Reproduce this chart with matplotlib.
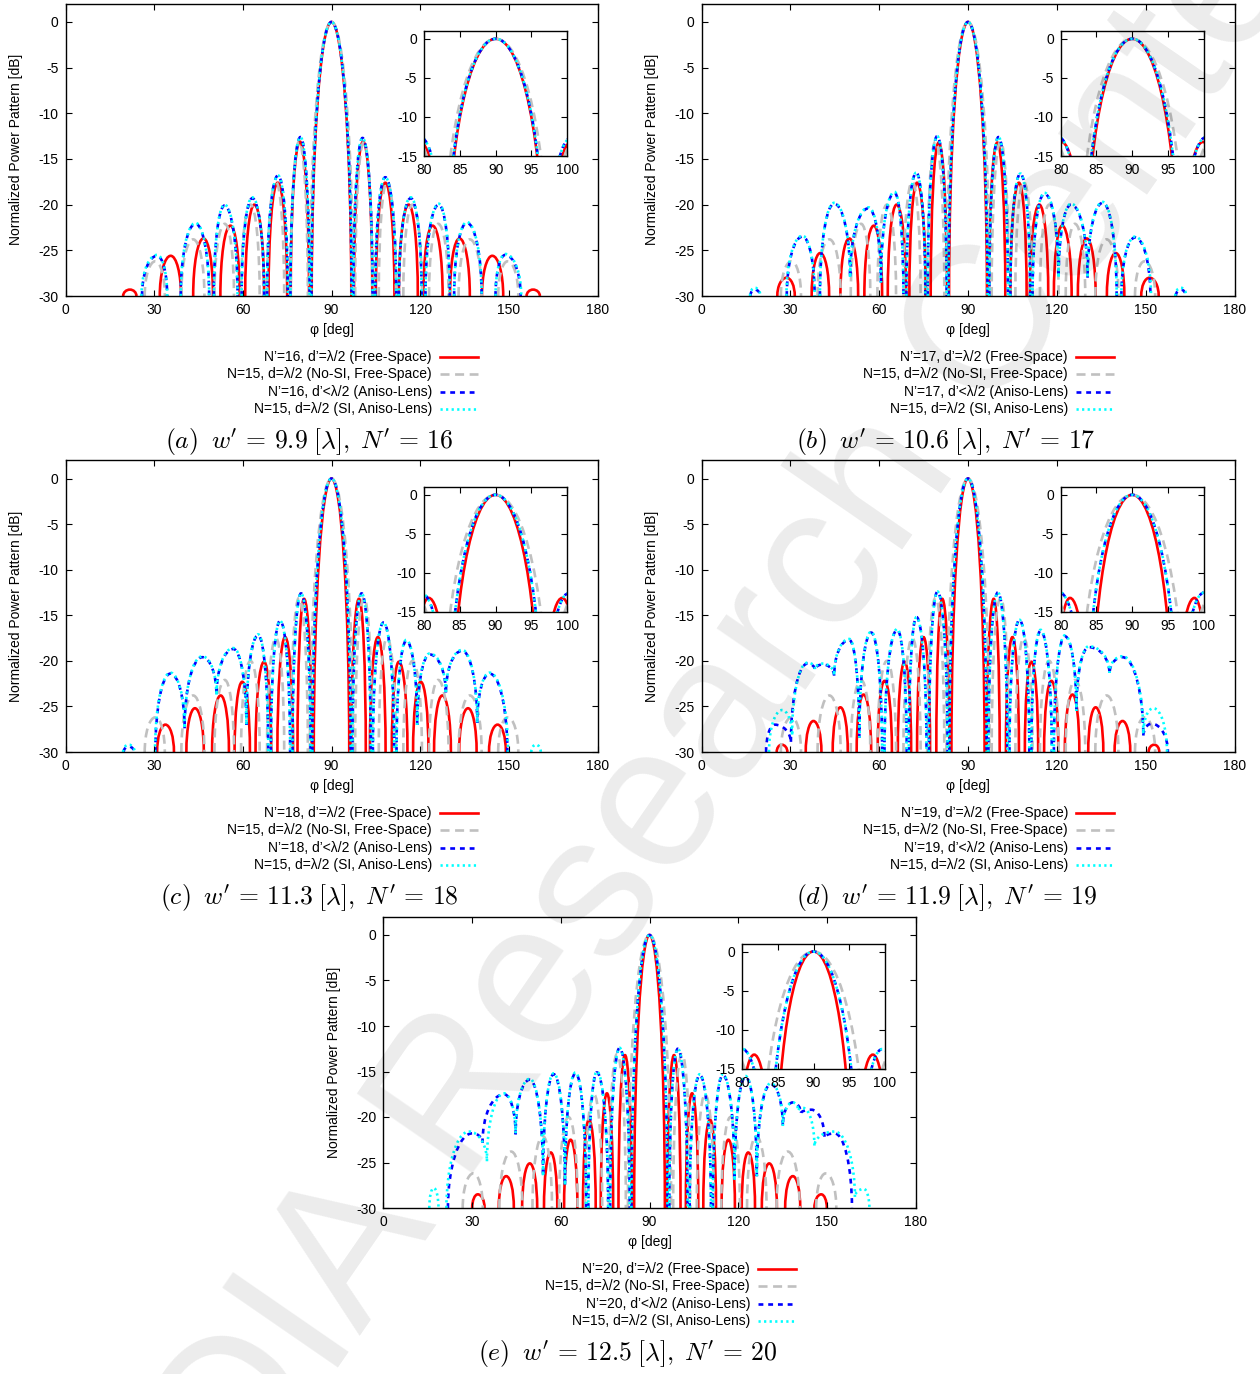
import matplotlib
matplotlib.use("Agg")
import matplotlib.pyplot as plt
from matplotlib.path import Path
from matplotlib.patches import PathPatch
from matplotlib.lines import Line2D

plt.rcParams["font.family"] = ["Liberation Sans", "DejaVu Sans"]
plt.rcParams["mathtext.fontset"] = "cm"
plt.rcParams["axes.unicode_minus"] = False
plt.rcParams["lines.scale_dashes"] = False

W, H = 1260, 1374

# each curve: lobe bottoms / peaks (deg, dB);
# two consecutive -30 points mean the curve drops below the axis in between
gray_pts = [(26.8, -30), (30.4, -26.2), (33.6, -30),
            (39.2, -30), (43.2, -23.8), (47.0, -30),
            (50.4, -30), (53.9, -22.1), (57.0, -30),
            (59.4, -30), (62.6, -20.0), (65.7, -30),
            (68.2, -30), (71.2, -17.5), (74.0, -30),
            (76.2, -30), (79.0, -13.1), (82.0, -30),
            (82.7, -30), (90.0, 0.0), (97.3, -30),
            (98.0, -30), (101.0, -13.1), (103.8, -30),
            (106.0, -30), (108.8, -17.5), (111.8, -30),
            (114.3, -30), (117.4, -20.0), (120.6, -30),
            (123.0, -30), (126.1, -22.1), (129.6, -30),
            (133.0, -30), (136.8, -23.8), (140.8, -30),
            (146.4, -30), (149.6, -26.2), (153.2, -30)]

red_a = [(19.5, -30), (21.8, -29.3), (24.0, -30),
         (31.9, -30), (35.6, -25.6), (39.1, -30),
         (43.2, -30), (46.7, -23.7), (49.9, -30),
         (52.4, -30), (55.8, -22.3), (58.9, -30),
         (60.8, -30), (63.9, -20.0), (67.2, -30),
         (68.7, -30), (71.8, -17.6), (75.0, -30),
         (76.2, -30), (79.3, -13.1), (82.4, -30),
         (83.3, -30), (90.0, 0.0), (96.7, -30),
         (97.6, -30), (100.7, -13.1), (103.8, -30),
         (105.0, -30), (108.2, -17.6), (111.3, -30),
         (112.8, -30), (116.1, -20.0), (119.2, -30),
         (121.1, -30), (124.2, -22.3), (127.6, -30),
         (130.1, -30), (133.3, -23.7), (136.8, -30),
         (140.9, -30), (144.4, -25.6), (148.1, -30),
         (156.0, -30), (158.2, -29.3), (160.5, -30)]

blue_a = [(25.9, -30), (31.0, -25.6), (34.4, -30),
          (39.0, -30), (44.0, -22.1), (48.6, -30),
          (50.2, -30), (53.8, -20.1), (58.2, -30),
          (59.6, -30), (63.2, -19.3), (67.2, -30),
          (68.2, -30), (71.9, -16.8), (75.2, -30),
          (76.1, -30), (79.5, -12.6), (82.6, -30),
          (83.2, -30), (90.0, 0.0), (96.8, -30),
          (97.4, -30), (100.5, -12.7), (103.9, -30),
          (104.8, -30), (108.2, -17.0), (111.9, -30),
          (112.8, -30), (116.8, -19.3), (120.5, -30),
          (121.8, -30), (126.3, -20.0), (130.0, -30),
          (131.5, -30), (135.8, -22.0), (140.8, -30),
          (145.5, -30), (148.8, -25.5), (154.0, -30)]

cyan_a = [(25.7, -30), (31.0, -25.5), (34.4, -30),
          (39.0, -30), (44.0, -22.0), (48.6, -30),
          (50.2, -30), (53.8, -20.0), (58.2, -30),
          (59.6, -30), (63.2, -19.2), (67.2, -30),
          (68.2, -30), (71.9, -16.8), (75.2, -30),
          (76.1, -30), (79.5, -12.6), (82.6, -30),
          (83.2, -30), (90.0, 0.0), (96.8, -30),
          (97.4, -30), (100.5, -12.7), (103.9, -30),
          (104.8, -30), (108.2, -17.0), (111.9, -30),
          (112.8, -30), (116.8, -19.2), (120.5, -30),
          (121.8, -30), (126.3, -19.9), (130.0, -30),
          (131.5, -30), (135.8, -21.9), (140.8, -30),
          (145.5, -30), (148.8, -25.4), (154.2, -30)]

red_b = [(25.6, -30), (28.7, -28.0), (31.5, -30),
         (37.2, -30), (40.1, -25.3), (43.1, -30),
         (46.9, -30), (49.9, -23.7), (52.9, -30),
         (55.0, -30), (58.2, -22.3), (61.0, -30),
         (62.9, -30), (65.9, -20.0), (69.1, -30),
         (70.2, -30), (72.8, -17.6), (75.7, -30),
         (77.4, -30), (80.1, -13.2), (82.9, -30),
         (83.6, -30), (90.0, 0.0), (96.4, -30),
         (97.1, -30), (99.9, -13.2), (102.6, -30),
         (104.3, -30), (107.2, -17.6), (109.8, -30),
         (110.9, -30), (114.1, -20.0), (117.1, -30),
         (119.0, -30), (121.8, -22.3), (125.0, -30),
         (127.1, -30), (130.1, -23.7), (133.1, -30),
         (136.9, -30), (139.9, -25.3), (142.8, -30),
         (148.5, -30), (151.3, -28.0), (154.4, -30)]

blue_b = [(16.5, -30), (18.0, -29.3), (19.8, -30),
          (28.8, -30), (34.1, -23.5), (38.2, -30),
          (40.0, -30), (44.8, -19.9), (50.2, -28.0), (56.4, -20.4),
          (60.6, -28.5), (65.2, -18.7), (68.2, -30),
          (69.2, -30), (72.5, -16.5), (75.6, -30),
          (76.4, -30), (79.6, -12.5), (82.8, -30),
          (83.4, -30), (90.0, 0.0), (96.6, -30),
          (97.2, -30), (100.3, -12.6), (103.5, -30),
          (104.3, -30), (107.7, -16.6), (111.0, -30),
          (111.8, -30), (115.8, -18.8), (120.6, -28.0), (124.8, -20.0),
          (130.4, -28.0), (135.5, -19.8), (140.2, -30),
          (141.8, -30), (146.4, -23.6), (151.6, -30),
          (160.2, -30), (161.9, -29.3), (163.5, -30)]

cyan_b = [(16.4, -30), (18.0, -29.1), (19.9, -30),
          (28.7, -30), (34.1, -23.4), (38.2, -30),
          (40.0, -30), (44.8, -19.8), (50.2, -28.0), (56.4, -20.3),
          (60.6, -28.5), (65.2, -18.6), (68.2, -30),
          (69.2, -30), (72.5, -16.5), (75.6, -30),
          (76.4, -30), (79.6, -12.5), (82.8, -30),
          (83.4, -30), (90.0, 0.0), (96.6, -30),
          (97.2, -30), (100.3, -12.6), (103.5, -30),
          (104.3, -30), (107.7, -16.6), (111.0, -30),
          (111.8, -30), (115.8, -18.7), (120.6, -28.0), (124.8, -19.9),
          (130.4, -28.0), (135.5, -19.7), (140.2, -30),
          (141.8, -30), (146.4, -23.5), (151.8, -30),
          (160.0, -30), (161.9, -29.1), (163.7, -30)]

red_c = [(31.0, -30), (33.8, -27.0), (36.7, -30),
         (40.9, -30), (43.8, -25.2), (46.8, -30),
         (49.6, -30), (52.5, -23.8), (55.3, -30),
         (57.2, -30), (59.8, -22.3), (62.4, -30),
         (64.3, -30), (67.2, -20.1), (69.6, -30),
         (71.7, -30), (74.3, -17.4), (77.0, -30),
         (78.5, -30), (80.7, -13.2), (83.3, -30),
         (84.0, -30), (90.0, 0.0), (96.0, -30),
         (96.7, -30), (99.3, -13.2), (101.6, -30),
         (103.0, -30), (105.7, -17.4), (108.3, -30),
         (110.4, -30), (112.8, -20.1), (115.7, -30),
         (117.6, -30), (120.2, -22.3), (122.8, -30),
         (124.7, -30), (127.5, -23.8), (130.4, -30),
         (133.2, -30), (136.2, -25.2), (139.1, -30),
         (143.3, -30), (146.2, -27.0), (149.0, -30)]

blue_c = [(19.7, -30), (21.4, -29.4), (23.2, -30),
          (30.4, -30), (35.5, -21.4), (40.3, -27.4), (46.3, -19.6),
          (51.1, -23.8), (56.8, -18.7), (61.2, -27.0), (65.2, -17.2), (68.6, -30),
          (69.5, -30), (72.6, -15.6), (76.0, -30),
          (76.8, -30), (79.7, -12.6), (82.9, -30),
          (83.5, -30), (90.0, 0.0), (96.5, -30),
          (97.1, -30), (100.2, -12.6), (103.3, -30),
          (104.0, -30), (107.6, -15.8), (111.2, -30),
          (112.0, -30), (115.3, -17.8), (119.0, -27.0), (123.2, -19.3),
          (128.7, -23.6), (134.2, -18.9), (139.3, -26.8), (143.5, -21.4), (149.5, -30)]

cyan_c = [(19.5, -30), (21.4, -29.2), (23.4, -30),
          (30.3, -30), (35.5, -21.3), (40.3, -27.4), (46.3, -19.5),
          (51.1, -23.8), (56.8, -18.6), (61.2, -27.0), (65.2, -17.1), (68.6, -30),
          (69.5, -30), (72.6, -15.6), (76.0, -30),
          (76.8, -30), (79.7, -12.6), (82.9, -30),
          (83.5, -30), (90.0, 0.0), (96.5, -30),
          (97.1, -30), (100.2, -12.6), (103.3, -30),
          (104.0, -30), (107.6, -15.8), (111.2, -30),
          (112.0, -30), (115.3, -17.7), (119.0, -27.0), (123.2, -19.2),
          (128.7, -23.6), (134.2, -18.8), (139.3, -26.8), (143.5, -21.3), (149.7, -30),
          (157.6, -30), (159.2, -29.2), (160.8, -30)]

red_d = [(25.4, -30), (27.1, -29.2), (29.0, -30),
         (35.2, -30), (37.8, -26.6), (40.5, -30),
         (44.3, -30), (46.9, -25.1), (49.4, -30),
         (52.4, -30), (54.7, -23.7), (57.3, -30),
         (59.5, -30), (61.8, -22.2), (64.3, -30),
         (66.3, -30), (68.6, -20.1), (70.8, -30),
         (72.8, -30), (75.0, -17.4), (77.2, -30),
         (79.3, -30), (81.3, -13.2), (83.7, -30),
         (84.4, -30), (90.0, 0.0), (95.6, -30),
         (96.3, -30), (98.7, -13.2), (100.7, -30),
         (102.8, -30), (105.0, -17.4), (107.2, -30),
         (109.2, -30), (111.4, -20.1), (113.7, -30),
         (115.7, -30), (118.2, -22.2), (120.5, -30),
         (122.7, -30), (125.3, -23.7), (127.6, -30),
         (130.6, -30), (133.1, -25.1), (135.7, -30),
         (139.5, -30), (142.2, -26.6), (144.8, -30),
         (151.0, -30), (152.9, -29.2), (154.6, -30)]

blue_d = [(21.8, -30), (24.7, -27.0), (30.2, -29.0), (35.8, -20.3), (38.3, -21.0),
          (40.9, -20.4), (44.8, -21.7), (49.9, -17.7), (53.3, -28.4), (57.3, -16.9), (61.0, -30),
          (61.8, -30), (66.1, -16.6), (69.3, -30),
          (70.0, -30), (72.6, -15.2), (76.0, -30),
          (76.8, -30), (79.7, -12.4), (83.1, -30),
          (83.7, -30), (90.0, 0.0), (96.3, -30),
          (96.9, -30), (100.1, -12.5), (103.3, -30),
          (104.0, -30), (107.4, -15.5), (110.7, -30),
          (111.4, -30), (114.5, -16.7), (118.3, -30),
          (119.0, -30), (122.7, -17.3), (126.6, -25.5), (130.8, -18.5), (137.8, -21.4),
          (142.2, -19.6), (149.2, -28.3), (152.0, -26.9), (157.5, -30)]

cyan_d = [(22.8, -30), (27.2, -25.4), (30.6, -28.2), (35.8, -20.2), (38.3, -20.9),
          (40.9, -20.3), (44.8, -21.6), (49.9, -17.6), (53.3, -28.4), (57.3, -16.8), (61.0, -30),
          (61.8, -30), (66.1, -16.5), (69.3, -30),
          (70.0, -30), (72.6, -15.2), (76.0, -30),
          (76.8, -30), (79.7, -12.4), (83.1, -30),
          (83.7, -30), (90.0, 0.0), (96.3, -30),
          (96.9, -30), (100.1, -12.5), (103.3, -30),
          (104.0, -30), (107.4, -15.5), (110.7, -30),
          (111.4, -30), (114.5, -16.6), (118.3, -30),
          (119.0, -30), (122.7, -17.2), (126.6, -25.5), (130.8, -18.4), (137.8, -21.3),
          (142.2, -19.5), (149.2, -28.0), (152.6, -25.2), (157.2, -30)]

red_e = [(30.0, -30), (31.9, -28.5), (34.2, -30),
         (39.0, -30), (41.5, -26.5), (44.1, -30),
         (46.9, -30), (49.5, -25.1), (52.0, -30),
         (54.3, -30), (56.6, -23.9), (58.8, -30),
         (61.1, -30), (63.3, -22.5), (65.6, -30),
         (67.5, -30), (69.5, -20.3), (71.8, -30),
         (73.5, -30), (75.6, -17.4), (77.7, -30),
         (79.5, -30), (81.7, -13.2), (84.0, -30),
         (84.8, -30), (90.0, 0.0), (95.2, -30),
         (96.0, -30), (98.3, -13.2), (100.5, -30),
         (102.3, -30), (104.4, -17.4), (106.5, -30),
         (108.2, -30), (110.5, -20.3), (112.5, -30),
         (114.4, -30), (116.7, -22.5), (118.9, -30),
         (121.2, -30), (123.4, -23.9), (125.7, -30),
         (128.0, -30), (130.5, -25.1), (133.1, -30),
         (135.9, -30), (138.5, -26.5), (141.0, -30),
         (145.8, -30), (148.1, -28.5), (150.0, -30)]

blue_e = [(21.8, -30), (30.0, -21.8), (33.5, -22.8), (40.8, -17.5), (44.7, -21.9),
          (49.5, -15.9), (54.0, -26.5), (57.6, -15.3), (61.4, -27.5), (65.0, -15.2), (68.6, -30),
          (69.3, -30), (72.2, -15.1), (76.0, -30),
          (76.7, -30), (79.9, -12.4), (83.3, -30),
          (83.9, -30), (90.0, 0.0), (96.1, -30),
          (96.7, -30), (99.6, -12.5), (102.9, -30),
          (103.6, -30), (107.0, -15.4), (110.8, -30),
          (111.4, -30), (114.8, -15.4), (118.8, -27.0), (122.5, -15.6), (126.3, -26.5),
          (131.0, -16.4), (135.1, -21.0), (138.5, -18.4), (141.2, -19.6), (144.8, -19.2),
          (149.2, -22.3), (152.6, -21.8), (158.5, -30)]

cyan_e = [(15.5, -30), (17.0, -27.8), (18.6, -30),
          (21.3, -30), (28.9, -21.6), (35.0, -24.9), (40.8, -17.4), (44.7, -21.8),
          (49.5, -15.8), (54.0, -26.5), (57.6, -15.2), (61.4, -27.5), (65.0, -15.1), (68.6, -30),
          (69.3, -30), (72.2, -15.0), (76.0, -30),
          (76.7, -30), (79.9, -12.4), (83.3, -30),
          (83.9, -30), (90.0, 0.0), (96.1, -30),
          (96.7, -30), (99.6, -12.5), (102.9, -30),
          (103.6, -30), (107.0, -15.3), (110.8, -30),
          (111.4, -30), (114.8, -15.3), (118.8, -27.0), (122.5, -15.5), (126.3, -26.5),
          (131.0, -16.3), (135.1, -21.0), (138.5, -18.4), (140.3, -19.3), (141.9, -19.0),
          (145.8, -23.2), (152.6, -21.6), (159.5, -28.8), (162.5, -27.9), (164.4, -30)]

n_prime = [16, 17, 18, 19, 20]
w_prime = ["9.9", "10.6", "11.3", "11.9", "12.5"]
letters = ["a", "b", "c", "d", "e"]

RED = dict(color="#ff0000", lw=1.9, ls="-")
GRAY = dict(color="#c0c0c0", lw=1.9, ls=(0, (6.5, 4.0)))
BLUE = dict(color="#0000ff", lw=1.9, ls=(0, (3.5, 3.5)))
CYAN = dict(color="#00ffff", lw=1.9, ls=(0, (1.6, 2.4)))

K = 0.55  # bezier handle length (quarter ellipse)


def lobes(ax, pts, st):
    verts, codes = [pts[0]], [Path.MOVETO]
    for (x0, y0), (x1, y1) in zip(pts[:-1], pts[1:]):
        if y0 <= -30 and y1 <= -30:
            verts.append((x1, y1))
            codes.append(Path.MOVETO)
            continue
        if y1 > y0:
            c1, c2 = (x0, y0 + K * (y1 - y0)), (x1 - K * (x1 - x0), y1)
        else:
            c1, c2 = (x0 + K * (x1 - x0), y0), (x1, y1 + K * (y0 - y1))
        verts += [c1, c2, (x1, y1)]
        codes += [Path.CURVE4] * 3
    ax.add_patch(PathPatch(Path(verts, codes), fill=False, edgecolor=st["color"],
                           linewidth=st["lw"], linestyle=st["ls"], capstyle="butt"))


def frac(l, t, r, b):
    return [l / W, 1 - b / H, (r - l) / W, (b - t) / H]


fig = plt.figure(figsize=(W / 100, H / 100), dpi=100)

main_px = [(65.5, 3.7, 597.5, 296), (701.5, 3.7, 1234.5, 296),
           (65.5, 460.3, 597.5, 752), (701.5, 460.3, 1234.5, 752),
           (383.5, 916.8, 915.5, 1208)]
inset_px = [(424, 31, 567.3, 156), (1060.7, 31, 1203.7, 156),
            (423.7, 487, 567.3, 612), (1060.7, 487, 1203.7, 612),
            (742, 943.7, 885, 1068.7)]
reds = [red_a, red_b, red_c, red_d, red_e]
blues = [blue_a, blue_b, blue_c, blue_d, blue_e]
cyans = [cyan_a, cyan_b, cyan_c, cyan_d, cyan_e]

for i in range(5):
    l, t, r, b = main_px[i]
    ax = fig.add_axes(frac(l, t, r, b))
    ax.set_xlim(0, 180)
    ax.set_ylim(-30, 2)
    ax.set_xticks(range(0, 181, 30))
    ax.set_yticks(range(-30, 1, 5))
    ax.tick_params(direction="in", top=True, right=True, length=4, width=0.8,
                   labelsize=10, pad=5)
    for sp in ax.spines.values():
        sp.set_linewidth(1.0)

    ins = fig.add_axes(frac(*inset_px[i]))
    ins.set_xlim(80, 100)
    ins.set_ylim(-15, 1)
    ins.set_xticks(range(80, 101, 5))
    ins.set_yticks([-15, -10, -5, 0])
    ins.tick_params(direction="in", top=True, right=True, length=4, width=0.8,
                    labelsize=10, pad=5)
    for sp in ins.spines.values():
        sp.set_linewidth(1.0)

    for a in (ax, ins):
        lobes(a, reds[i], RED)
        lobes(a, gray_pts, GRAY)
        lobes(a, blues[i], BLUE)
        lobes(a, cyans[i], CYAN)

    # axis labels
    cx = (l + r) / 2
    fig.text(cx / W, 1 - (b + 34) / H, "φ [deg]", ha="center", va="center", fontsize=10)
    fig.text((l - 49.5) / W, 1 - (t + b) / 2 / H, "Normalized Power Pattern [dB]",
             rotation=90, ha="center", va="center", fontsize=10)

    # legend, gnuplot style (text right aligned, sample on the right)
    n = n_prime[i]
    labels = [f"N’={n}, d’=λ/2 (Free-Space)", "N=15, d=λ/2 (No-SI, Free-Space)",
              f"N’={n}, d’<λ/2 (Aniso-Lens)", "N=15, d=λ/2 (SI, Aniso-Lens)"]
    tx = l + 366.5
    for k, (lab, st) in enumerate(zip(labels, [RED, GRAY, BLUE, CYAN])):
        yy = 1 - (b + 61 + 17.3 * k) / H
        fig.text(tx / W, yy, lab, ha="right", va="center", fontsize=10)
        fig.add_artist(Line2D([(tx + 8) / W, (tx + 46) / W], [yy, yy],
                              transform=fig.transFigure, color=st["color"],
                              lw=st["lw"], ls=st["ls"]))

    fig.text((cx - 22) / W, 1 - (b + 146) / H,
             rf"$({letters[i]})\;\;w'\,=\,{w_prime[i]}\;[\lambda],\;N'\,=\,{n}$",
             ha="center", va="center", fontsize=18.5)

# faint watermark across the page
fig.text(244 / W, 1 - 1504 / H, "DIA Research Center", rotation=55.4,
         rotation_mode="anchor", ha="left", va="baseline", fontsize=147,
         color="black", alpha=0.08, zorder=10)

fig.savefig("out.png", dpi=100)
